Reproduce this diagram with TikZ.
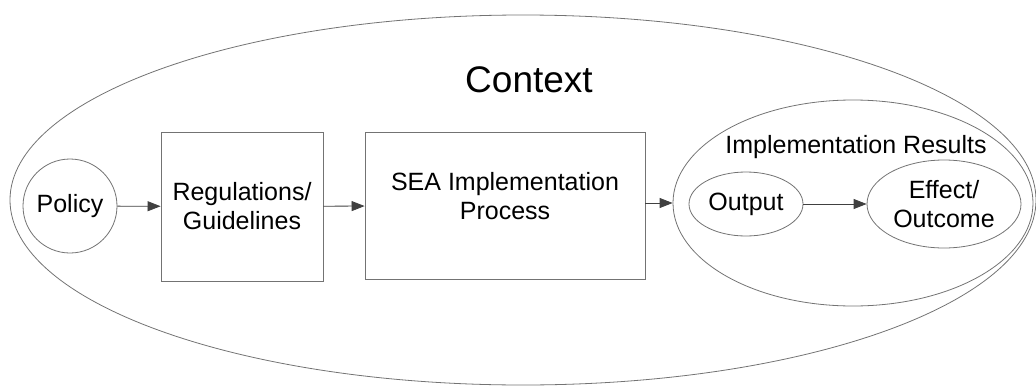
\documentclass[tikz,border=0pt]{standalone}
\usepackage{fontspec}
\setmainfont{Liberation Sans}
\usetikzlibrary{shapes.geometric, arrows.meta, positioning}

\begin{document}
\begin{tikzpicture}[
	x=1pt, y=-1pt,
	>={Triangle[length=13pt,width=10pt]},
	every node/.style={font=\fontsize{25}{29}\selectfont, align=center},
	outline/.style={draw=black!55, line width=0.8pt},
	flow/.style={->, draw=black!75, line width=0.8pt}]

	\useasboundingbox (0,0) rectangle (1036,391);

	% the surrounding context
	\node[outline, ellipse, minimum width=1026, minimum height=370, inner sep=0] (context) at (523,200) {};
	\node[anchor=base] (contextlabel) at (529,92) {\fontsize{37}{40}\selectfont Context};

	% policy chain
	\node[outline, circle, minimum size=94, inner sep=0] (policy) at (70,206) {Policy};
	\node[outline, rectangle, minimum width=162, minimum height=149] (regs) at (242,206.5) {Regulations/\\Guidelines};
	\node[outline, rectangle, minimum width=280, minimum height=147] (sea) at (505,205.5) {};
	\node (sealabel) at ([yshift=9pt]sea.center) {SEA Implementation\\Process};

	% results
	\node[outline, ellipse, minimum width=360, minimum height=206, inner sep=0] (results) at (853,203) {};
	\node[anchor=base] (resultslabel) at (856,153) {Implementation Results};
	\node[outline, ellipse, minimum width=114, minimum height=64, inner sep=0] (output) at (746,204) {Output};
	\node[outline, ellipse, minimum width=154, minimum height=88, inner sep=0] (effect) at (944,204) {Effect/\\Outcome};

	\draw[flow] (policy) -- (regs);
	\draw[flow] (regs) -- (sea);
	\draw[flow] (sea.east |- results.west) -- (results.west);
	\draw[flow] (output) -- (effect);

\end{tikzpicture}
\end{document}
